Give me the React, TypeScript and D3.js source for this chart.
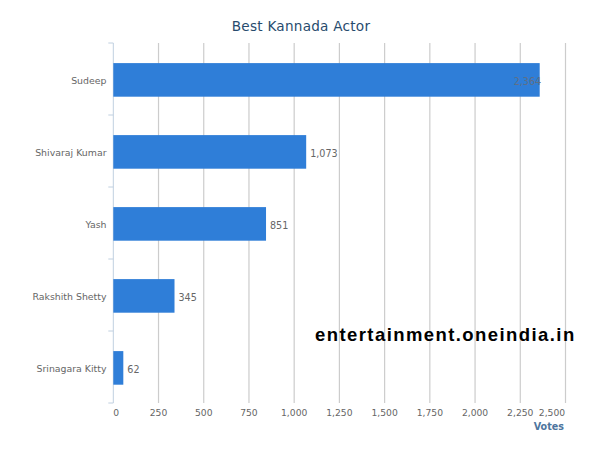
import React from "react";
import * as d3 from "d3";

const categories = ["Sudeep", "Shivaraj Kumar", "Yash", "Rakshith Shetty", "Srinagara Kitty"];
const votes = [2364, 1073, 851, 345, 62];
const xTicks = [0, 250, 500, 750, 1000, 1250, 1500, 1750, 2000, 2250, 2500];

const font = "'DejaVu Sans', sans-serif";

export default function App() {
  const x = d3.scaleLinear().domain([0, 2500]).range([113.3, 565.5]);
  const y = d3.scaleBand<string>().domain(categories).range([43, 403]);
  const barH = 33.6;
  const fmt = d3.format(",");
  const edges = [...categories.map((c) => y(c)!), 403];
  return (
    <svg width={600} height={450} style={{ position: "absolute", left: 0, top: 0, background: "#fff" }}>
      <text x={301} y={31} textAnchor="middle" fontFamily={font} fontSize={13.6} letterSpacing={0.25} fill="#274b6d">Best Kannada Actor</text>
      {xTicks.slice(1).map((t) => (
        <line key={t} x1={x(t)} x2={x(t)} y1={43} y2={403} stroke="#cccccc" strokeWidth={1.2} />
      ))}
      <line x1={x(0)} x2={x(0)} y1={43} y2={403} stroke="#c0d0e0" strokeWidth={1} />
      {edges.map((e) => (
        <line key={e} x1={x(0) - 5} x2={x(0)} y1={e} y2={e} stroke="#c0d0e0" strokeWidth={1} />
      ))}
      {categories.map((c, i) => {
        const cy = y(c)! + y.bandwidth() / 2 + 0.9;
        const inside = votes[i] > 2300;
        const end = x(votes[i]) - 1.2;
        return (
          <g key={c}>
            <rect x={x(0)} y={cy - barH / 2} width={end - x(0)} height={barH} fill="#2f7ed8" />
            <text x={106.5} y={cy + 4.5} textAnchor="end" fontFamily={font} fontSize={9.4} fill="#666">{c}</text>
            <text x={inside ? end + 1.5 : end + 4} y={cy + 5.2} textAnchor={inside ? "end" : "start"} fontFamily={font} fontSize={9.6} fill={inside ? "#5f6f85" : "#666"}>{fmt(votes[i])}</text>
          </g>
        );
      })}
      {xTicks.map((t) => (
        <text key={t} x={t === 0 ? x(t) + 3 : t === 2500 ? x(t) - 13.5 : x(t)} y={416} textAnchor="middle" fontFamily={font} fontSize={9.2} fill="#666">{fmt(t)}</text>
      ))}
      <text x={564} y={430} textAnchor="end" fontFamily={font} fontSize={9.6} fontWeight="bold" fill="#4d759e">Votes</text>
      <text x={315} y={341} fontFamily="'Liberation Sans', Arial, sans-serif" fontSize={18.5} fontWeight="bold" fill="#000" letterSpacing={1.42}>entertainment.oneindia.in</text>
    </svg>
  );
}
